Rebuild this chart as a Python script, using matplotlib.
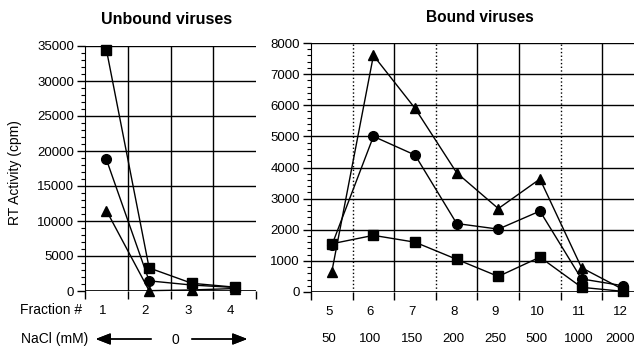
import matplotlib.pyplot as plt
import matplotlib.transforms as mtransforms
from matplotlib.ticker import MultipleLocator, FixedLocator

plt.rcParams['font.family'] = ['Liberation Sans', 'DejaVu Sans']

# unbound fractions
frac_unb = [1, 2, 3, 4]
sq_unb = [34500, 3300, 1100, 550]
ci_unb = [18800, 1450, 850, 500]
tr_unb = [11500, 50, 150, 350]

# bound fractions
frac_b = [5, 6, 7, 8, 9, 10, 11, 12]
nacl_b = ["50", "100", "150", "200", "250", "500", "1000", "2000"]
sq_b = [1550, 1820, 1600, 1050, 500, 1120, 150, 20]
ci_b = [1500, 5000, 4400, 2200, 2020, 2600, 420, 200]
tr_b = [650, 7600, 5900, 3830, 2680, 3630, 780, 80]

fig = plt.figure(figsize=(6.34, 3.5), dpi=100)
W, H = 634, 350
ax1 = fig.add_axes([85 / W, 1 - 291 / H, 171 / W, 245 / H])
ax2 = fig.add_axes([311 / W, 1 - 292 / H, 323 / W, 249 / H])

mk = dict(color='black', lw=1.0, ms=7, clip_on=False, zorder=5)
for ax, x, s, c, t in [(ax1, frac_unb, sq_unb, ci_unb, tr_unb),
                       (ax2, frac_b, sq_b, ci_b, tr_b)]:
    ax.plot(x, s, marker='s', **mk)
    ax.plot(x, c, marker='o', **mk)
    ax.plot(x, t, marker='^', **mk)
    ax.spines['top'].set_visible(False)
    ax.spines['right'].set_visible(False)
    ax.spines['bottom'].set_visible(False)
    ax.tick_params(axis='y', which='major', length=6, width=1, labelsize=9.5, pad=2)
    ax.tick_params(axis='y', which='minor', length=3, width=0.8)
    ax.tick_params(axis='x', which='major', length=0, labelsize=9.5, pad=10)
    ax.tick_params(axis='x', which='minor', length=6, width=1)
    ax.grid(True, axis='y', which='major', color='black', lw=1.0)
    ax.axhline(0, color='black', lw=1.2, zorder=3)

ax1.set_xlim(0.5, 4.5)
ax1.set_ylim(0, 35000)
ax1.yaxis.set_major_locator(MultipleLocator(5000))
ax1.yaxis.set_minor_locator(MultipleLocator(1000))
ax1.set_xticks(frac_unb)
ax1.xaxis.set_minor_locator(FixedLocator([0.5, 1.5, 2.5, 3.5, 4.5]))
for xv in [1.5, 2.5, 3.5]:
    ax1.axvline(xv, color='black', lw=1.0, zorder=1)
shift = mtransforms.ScaledTranslation(-4 / 100, 0, fig.dpi_scale_trans)
for lab in ax1.get_xticklabels():
    lab.set_transform(lab.get_transform() + shift)

ax2.set_xlim(4.5, 12.26)
ax2.set_ylim(0, 8000)
ax2.yaxis.set_major_locator(MultipleLocator(1000))
ax2.yaxis.set_minor_locator(MultipleLocator(200))
ax2.set_xticks(frac_b)
ax2.xaxis.set_minor_locator(FixedLocator([4.5 + i for i in range(8)]))
for xv in [5.5, 6.5, 7.5, 8.5, 9.5, 10.5, 11.5]:
    ls = ':' if xv in (5.5, 7.5, 10.5) else '-'
    ax2.axvline(xv, color='black', lw=1.0, ls=ls, zorder=1)
shift2 = mtransforms.ScaledTranslation(-3 / 100, 0, fig.dpi_scale_trans)
for lab in ax2.get_xticklabels():
    lab.set_transform(lab.get_transform() + shift2)

tr2 = mtransforms.blended_transform_factory(ax2.transData, fig.transFigure) + shift2
for xv, lab in zip(frac_b, nacl_b):
    fig.text(xv, 1 - 339 / H, lab, transform=tr2, ha='center', va='center', fontsize=9.5)

fig.text(167 / W, 1 - 19 / H, "Unbound viruses", ha='center', va='center', fontsize=11.5, fontweight='bold')
fig.text(480 / W, 1 - 18 / H, "Bound viruses", ha='center', va='center', fontsize=11.2, fontweight='bold')
fig.text(15 / W, 1 - 173 / H, "RT Activity (cpm)", ha='center', va='center', rotation=90, fontsize=10)

fig.text(82 / W, 1 - 310 / H, "Fraction #", ha='right', va='center', fontsize=10)
fig.text(88 / W, 1 - 339 / H, "NaCl (mM)", ha='right', va='center', fontsize=10)
fig.text(175 / W, 1 - 340 / H, "0", ha='center', va='center', fontsize=10)
ap = dict(arrowstyle='-|>,head_length=0.9,head_width=0.35', color='black', lw=1.0)
fig.add_artist(plt.annotate("", xy=(93 / W, 1 - 339 / H), xytext=(154 / W, 1 - 339 / H),
                            xycoords='figure fraction', textcoords='figure fraction', arrowprops=ap))
fig.add_artist(plt.annotate("", xy=(250 / W, 1 - 339 / H), xytext=(189 / W, 1 - 339 / H),
                            xycoords='figure fraction', textcoords='figure fraction', arrowprops=ap))

fig.savefig("out.png", dpi=100)
